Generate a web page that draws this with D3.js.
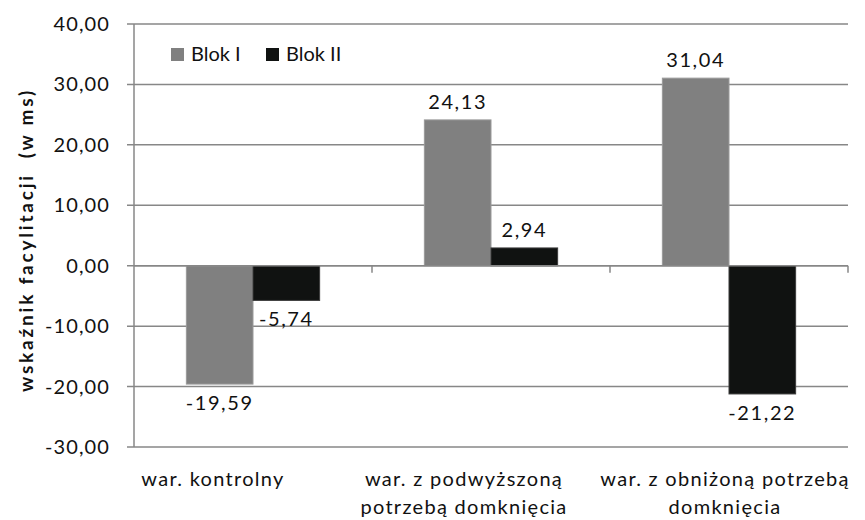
<!DOCTYPE html>
<html>
<head>
<meta charset="utf-8">
<script src="https://cdn.jsdelivr.net/npm/d3@7"></script>
<style>
  body { margin: 0; background: #fff; }
  svg { font-family: Lato, "Open Sans", sans-serif; }
</style>
</head>
<body>
<svg width="865" height="520"></svg>
<script>
// data
var categories = ['war. kontrolny', 'war. z podwyższoną potrzebą domknięcia', 'war. z obniżoną potrzebą domknięcia'];
var catLines = [['war. kontrolny'], ['war. z podwyższoną', 'potrzebą domknięcia'], ['war. z obniżoną potrzebą', 'domknięcia']];
var series = ['Blok I', 'Blok II'];
var blok1 = [-19.59, 24.13, 31.04];
var blok2 = [-5.74, 2.94, -21.22];
var yTicks = [-30, -20, -10, 0, 10, 20, 30, 40];
var colors = ['#808080', '#101211'];

var margin = { top: 24, right: 17, bottom: 73, left: 134 };
var width = 865 - margin.left - margin.right;
var height = 520 - margin.top - margin.bottom;

var svg = d3.select('svg');
var graph = svg.append('g')
    .attr('transform', 'translate(' + margin.left + ',' + margin.top + ')');

var y = d3.scaleLinear().domain([-30, 40]).range([height, 0]);
var x0 = d3.scaleBand().domain(d3.range(categories.length)).range([0, width]);
var gap = x0.bandwidth() * 0.44;
var x1 = d3.scaleBand().domain(d3.range(series.length)).range([gap / 2, x0.bandwidth() - gap / 2]);

// polish number format: comma decimal, plain hyphen minus
var pl = d3.formatLocale({ decimal: ',', thousands: ' ', grouping: [3], currency: ['', ''], minus: '-' });
var fmt = pl.format('.2f');

// gridlines
graph.selectAll('.grid')
    .data(yTicks)
    .enter().append('line')
    .attr('x1', -7)
    .attr('x2', width)
    .attr('y1', function (d) { return y(d); })
    .attr('y2', function (d) { return y(d); })
    .attr('stroke', '#878787')
    .attr('stroke-width', 1.5);

// y axis line
graph.append('line')
    .attr('x1', 0).attr('x2', 0)
    .attr('y1', 0).attr('y2', height)
    .attr('stroke', '#878787')
    .attr('stroke-width', 1.5);

// y tick labels
graph.selectAll('.ylab')
    .data(yTicks)
    .enter().append('text')
    .attr('x', -24)
    .attr('y', function (d) { return y(d); })
    .attr('dy', '0.35em')
    .attr('text-anchor', 'end')
    .attr('font-size', 20)
    .attr('letter-spacing', 1.1)
    .attr('fill', '#111')
    .text(fmt);

// bars
var rows = categories.map(function (c, i) { return [blok1[i], blok2[i]]; });
var groups = graph.selectAll('.grp')
    .data(rows)
    .enter().append('g')
    .attr('transform', function (d, i) { return 'translate(' + x0(i) + ',0)'; });

groups.selectAll('rect')
    .data(function (d) { return d; })
    .enter().append('rect')
    .attr('x', function (d, j) { return x1(j); })
    .attr('width', x1.bandwidth())
    .attr('y', function (d) { return y(Math.max(0, d)); })
    .attr('height', function (d) { return Math.abs(y(d) - y(0)); })
    .attr('fill', function (d, j) { return colors[j]; })
    .attr('stroke', function (d, j) { return j === 0 ? '#9a9a9a' : '#3a3a3a'; })
    .attr('stroke-width', 1);

groups.selectAll('.val')
    .data(function (d) { return d; })
    .enter().append('text')
    .attr('x', function (d, j) { return x1(j) + x1.bandwidth() / 2; })
    .attr('y', function (d) { return d >= 0 ? y(d) - 18 : y(d) + 19; })
    .attr('dy', '0.35em')
    .attr('text-anchor', 'middle')
    .attr('font-size', 20)
    .attr('letter-spacing', 1.6)
    .attr('fill', '#111')
    .text(fmt);

// zero axis with category ticks
graph.append('line')
    .attr('x1', 0).attr('x2', width)
    .attr('y1', y(0)).attr('y2', y(0))
    .attr('stroke', '#878787')
    .attr('stroke-width', 1.5);

graph.selectAll('.ctick')
    .data(d3.range(1, categories.length + 1))
    .enter().append('line')
    .attr('x1', function (i) { return i * x0.bandwidth(); })
    .attr('x2', function (i) { return i * x0.bandwidth(); })
    .attr('y1', y(0))
    .attr('y2', y(0) + 7)
    .attr('stroke', '#878787')
    .attr('stroke-width', 1.5);

// category labels (Excel places them a bit left of centre)
var labelShift = [-40, -27, -4];
var cat = graph.selectAll('.cat')
    .data(catLines)
    .enter().append('text')
    .attr('text-anchor', 'middle')
    .attr('font-size', 20)
    .attr('letter-spacing', 1.3)
    .attr('fill', '#111')
    .attr('transform', function (d, i) {
        return 'translate(' + (x0(i) + x0.bandwidth() / 2 + labelShift[i]) + ',' + (height + 39) + ')';
    });
cat.selectAll('tspan')
    .data(function (d) { return d; })
    .enter().append('tspan')
    .attr('x', 0)
    .attr('dy', function (d, k) { return k === 0 ? 0 : 28; })
    .text(function (d) { return d; });

// y title
svg.append('text')
    .attr('transform', 'translate(33,' + 240 + ') rotate(-90)')
    .attr('text-anchor', 'middle')
    .attr('font-size', 19)
    .attr('font-weight', 'bold')
    .attr('letter-spacing', 2.8)
    .attr('fill', '#111')
    .attr('xml:space', 'preserve')
    .text('wskaźnik facylitacji  (w ms)');

// legend
var legend = graph.append('g').attr('transform', 'translate(37,30)');
var legX = [0, 95];
series.forEach(function (s, j) {
    legend.append('rect')
        .attr('x', legX[j])
        .attr('y', -6)
        .attr('width', 13)
        .attr('height', 13)
        .attr('fill', colors[j]);
    legend.append('text')
        .attr('x', legX[j] + 20)
        .attr('y', 0)
        .attr('dy', '0.35em')
        .attr('font-size', 20)
        .attr('fill', '#111')
        .text(s);
});
</script>
</body>
</html>
